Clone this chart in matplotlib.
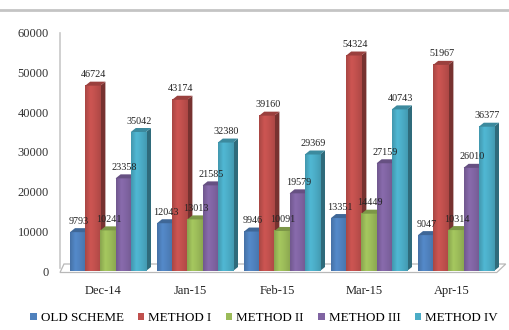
import matplotlib
matplotlib.use("Agg")
import matplotlib.pyplot as plt
from matplotlib.patches import Polygon, Rectangle
from matplotlib.lines import Line2D
import matplotlib.colors as mcolors
import numpy as np

categories = ["Dec-14", "Jan-15", "Feb-15", "Mar-15", "Apr-15"]
series_names = ["OLD SCHEME", "METHOD I", "METHOD II", "METHOD III", "METHOD IV"]
old_scheme = [9793, 12043, 9946, 13351, 9047]
method_1 = [46724, 43174, 39160, 54324, 51967]
method_2 = [10241, 13013, 10091, 14449, 10314]
method_3 = [23358, 21585, 19579, 27159, 26010]
method_4 = [35042, 32380, 29369, 40743, 36377]
series_values = [old_scheme, method_1, method_2, method_3, method_4]
colors = ["#4F81BD", "#C0504D", "#9BBB59", "#8064A2", "#4BACC6"]
yticks = [0, 10000, 20000, 30000, 40000, 50000, 60000]

plt.rcParams['font.family'] = ['Liberation Serif', 'DejaVu Serif']

fig = plt.figure(figsize=(5.1, 3.3), dpi=100)
W, H = 510, 330
ax = fig.add_axes([60 / W, (H - 271) / H, 435 / W, 238 / H])
ax.set_xlim(0, 5)
ax.set_ylim(0, 60000)

px_x = 5 / 435.0       # data units per pixel (x)
px_y = 60000 / 238.0   # data units per pixel (y)
bw = 15.2 * px_x
first_off = 10 * px_x
dx = 5 * px_x
dy = 4 * px_y


def shade(c, f):
    r, g, b = mcolors.to_rgb(c)
    return (min(r * f, 1), min(g * f, 1), min(b * f, 1))


def grad_cmap(c):
    return mcolors.LinearSegmentedColormap.from_list(
        "g", [shade(c, 0.88), shade(c, 1.07), shade(c, 1.0), shade(c, 0.9)])


# floor and wall
floor = Polygon([(0, -1.5 * px_y), (5.02, -1.5 * px_y), (5.02 + 9 * px_x, 7 * px_y), (4 * px_x, 7 * px_y)],
                closed=True, facecolor="white", edgecolor="#B8B8B8", lw=0.9, clip_on=False, zorder=1)
ax.add_patch(floor)
ax.plot([0, 0], [3 * px_y, 60000], color="#C8C8C8", lw=1.2, clip_on=False, zorder=1)

grad = np.linspace(0, 1, 32).reshape(1, -1)
z = 2
for ci in range(len(categories)):
    for si, vals in enumerate(series_values):
        v = vals[ci]
        x0 = ci + first_off + si * bw
        col = colors[si]
        # front face via bar
        bar = ax.bar(x0, v, width=bw, align='edge', color=col, edgecolor='none', zorder=z + 1, clip_on=False)
        ax.imshow(grad, cmap=grad_cmap(col), extent=(x0, x0 + bw, 0, v), aspect='auto',
                  zorder=z + 1.5, clip_on=False, interpolation='bilinear')
        # side face
        side = Polygon([(x0 + bw, 0), (x0 + bw + dx, dy), (x0 + bw + dx, v + dy), (x0 + bw, v)],
                       closed=True, facecolor=shade(col, 0.62), edgecolor='none', zorder=z, clip_on=False)
        ax.add_patch(side)
        top = Polygon([(x0, v), (x0 + dx, v + dy), (x0 + bw + dx, v + dy), (x0 + bw, v)],
                      closed=True, facecolor=shade(col, 0.8), edgecolor='none', zorder=z + 2, clip_on=False)
        ax.add_patch(top)
        ax.annotate(str(v), (x0 + bw / 2 + 1 * px_x, v), xytext=(0, 11), textcoords='offset pixels',
                    ha='center', va='center', fontsize=7.3, color="#222222", zorder=200)
        z += 3

ax.set_xlim(0, 5)
ax.set_ylim(0, 60000)
ax.set_yticks(yticks)
ax.set_yticklabels([str(t) for t in yticks], fontsize=9, color="#333333")
ax.set_xticks([i + 0.5 for i in range(len(categories))])
ax.set_xticklabels(categories, fontsize=9, color="#222222")
ax.tick_params(axis='y', length=0, pad=8)
ax.tick_params(axis='x', length=0, pad=10)
for s in ax.spines.values():
    s.set_visible(False)

# top border line
fig.add_artist(Line2D([0, 1], [(H - 10) / H, (H - 10) / H], color="#C4C4C4", lw=2))

handles = [Rectangle((0, 0), 1, 1, facecolor=c, edgecolor='none') for c in colors]
fig.legend(handles, series_names, loc='center', bbox_to_anchor=(264 / W, 12 / H), ncol=5,
           frameon=False, fontsize=9.4, handlelength=0.5, handleheight=0.5, handletextpad=0.3,
           columnspacing=1.1, borderaxespad=0)

fig.savefig("out.png", dpi=100)
